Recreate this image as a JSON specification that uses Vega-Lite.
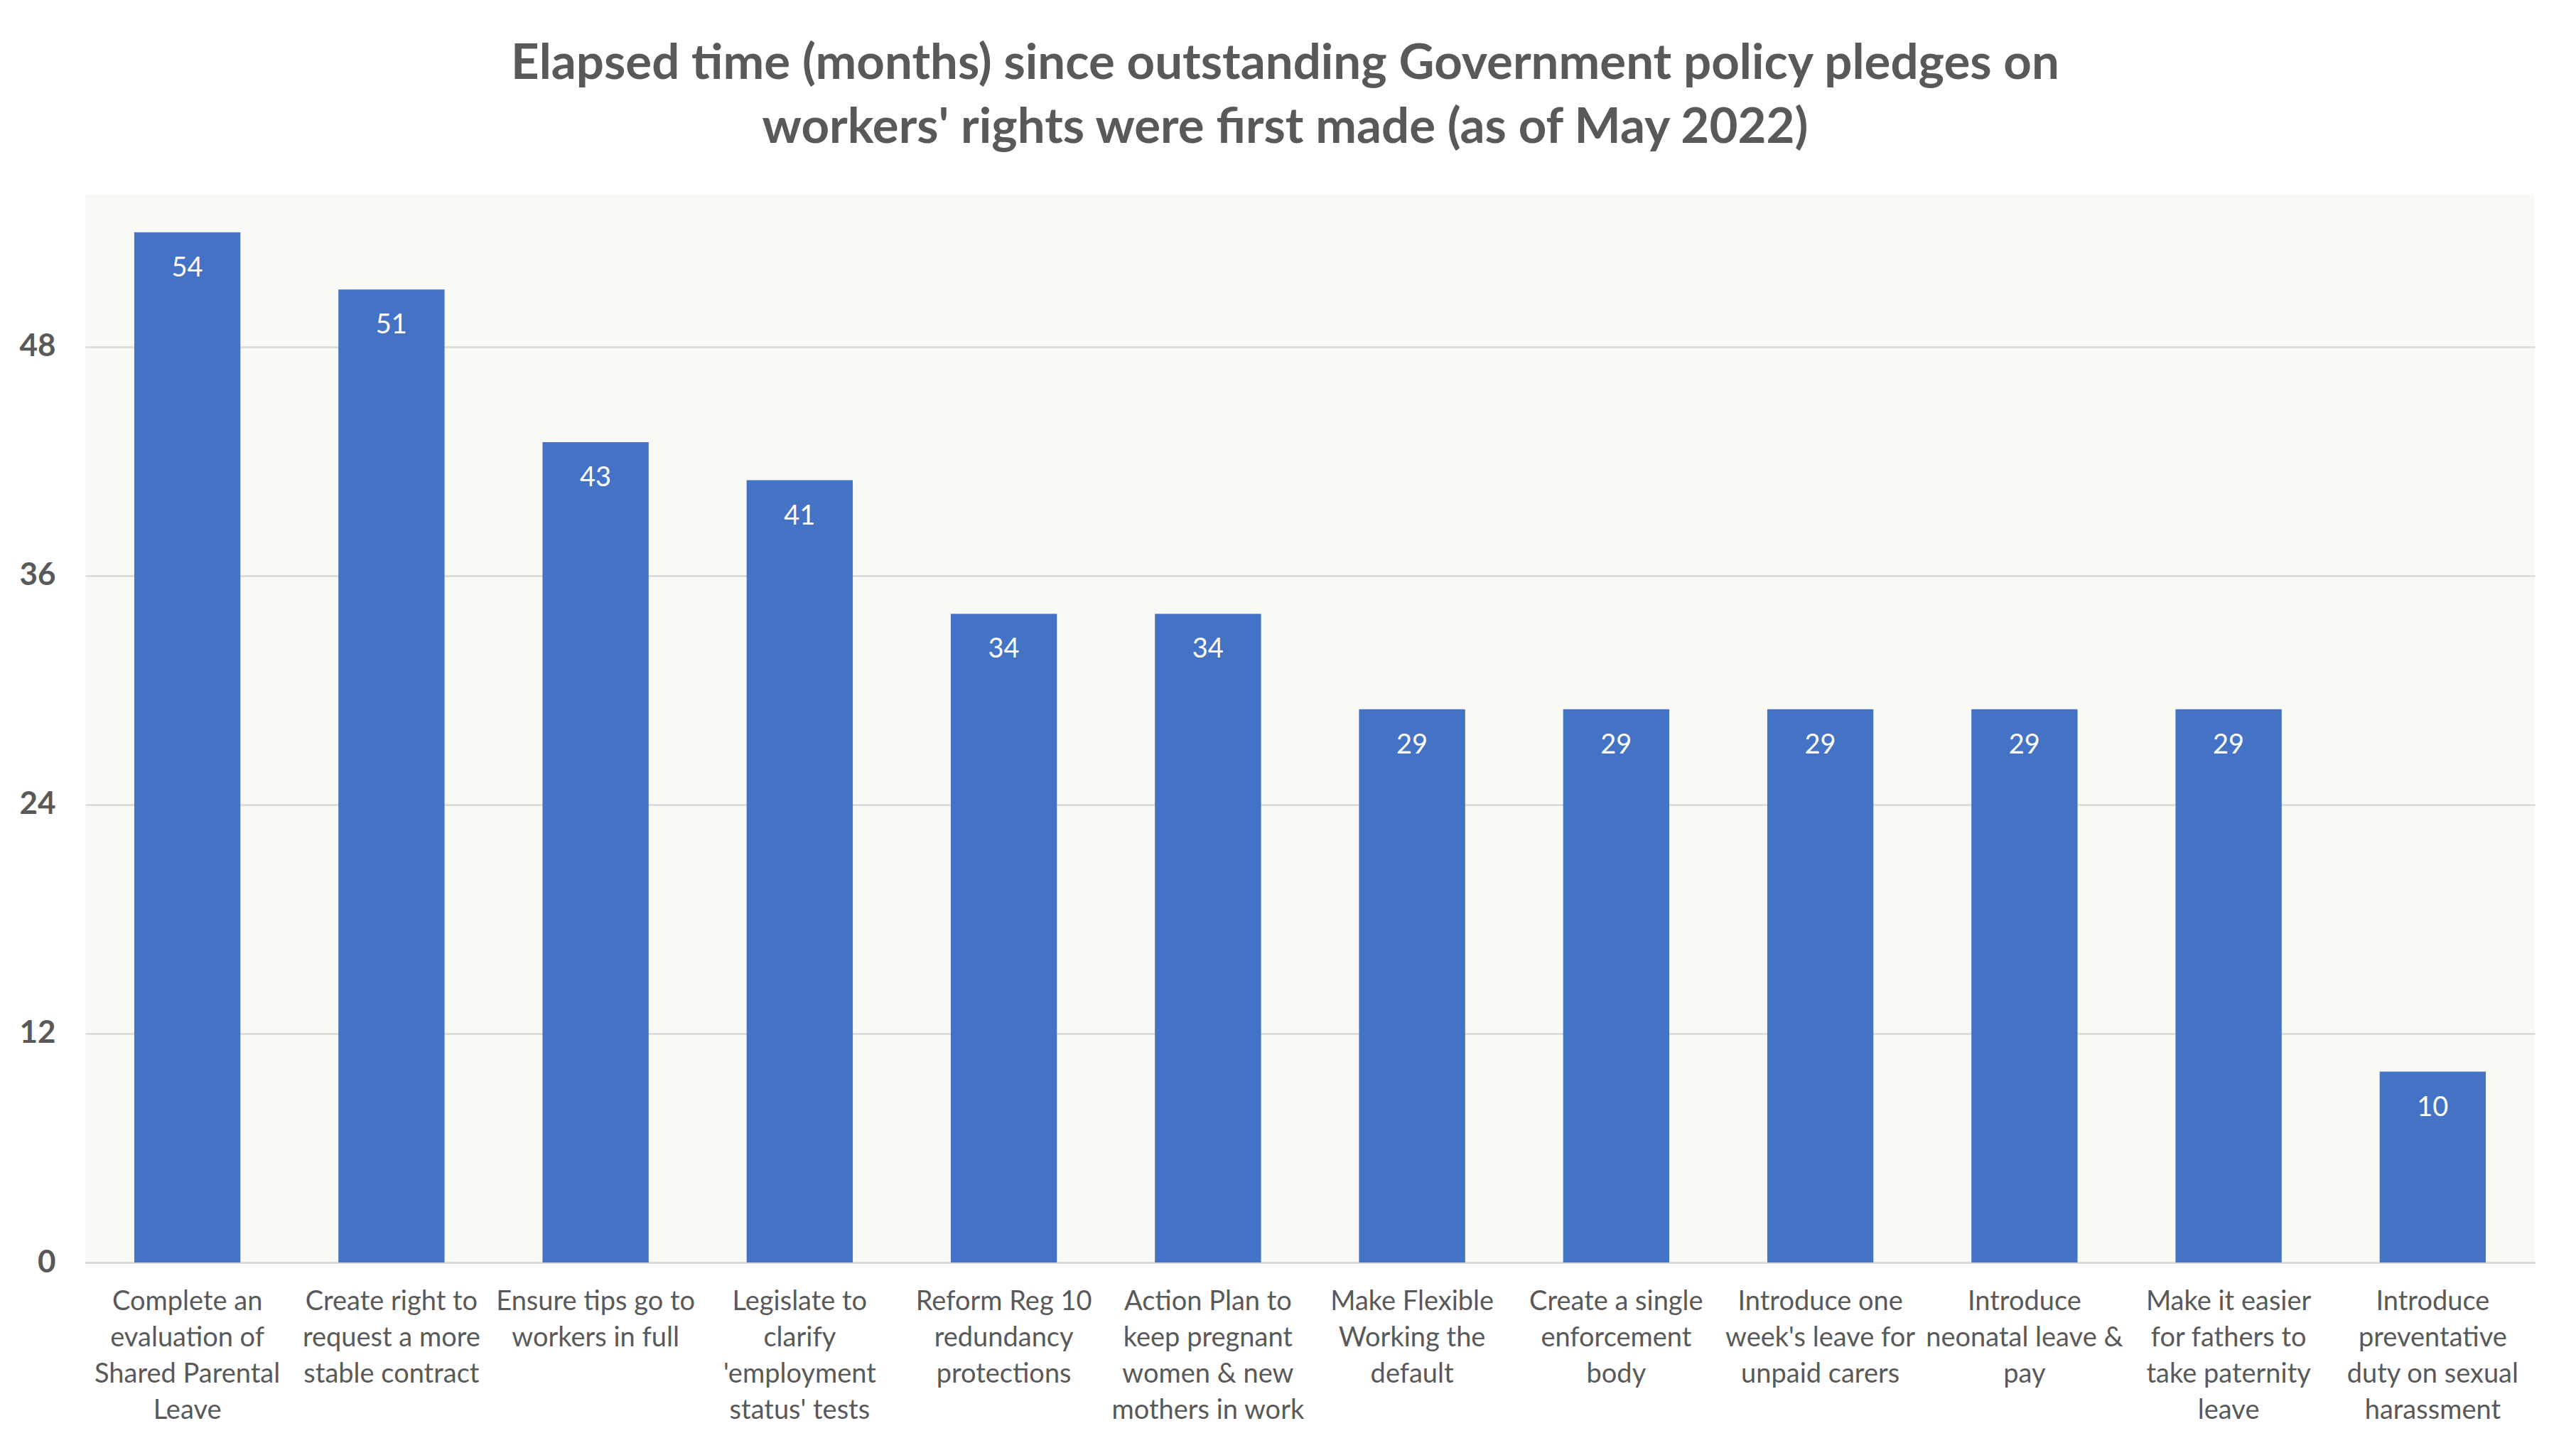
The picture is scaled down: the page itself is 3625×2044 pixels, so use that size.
{
  "$schema": "https://vega.github.io/schema/vega-lite/v6.json",
  "autosize": "none",
  "width": 3447,
  "height": 1503,
  "padding": {"left": 120, "top": 273, "right": 58, "bottom": 268},
  "background": "#FFFFFF",
  "title": {
    "text": ["Elapsed time (months) since outstanding Government policy pledges on", "workers' rights were first made (as of May 2022)"],
    "font": "Lato",
    "fontSize": 69,
    "fontWeight": "bold",
    "color": "#595959",
    "lineHeight": 90,
    "anchor": "middle",
    "dx": -35,
    "offset": 58
  },
  "data": {
    "values": [
      {"pledge": "Complete an|evaluation of|Shared Parental|Leave", "months": 54},
      {"pledge": "Create right to|request a more|stable contract", "months": 51},
      {"pledge": "Ensure tips go to|workers in full", "months": 43},
      {"pledge": "Legislate to|clarify|'employment|status' tests", "months": 41},
      {"pledge": "Reform Reg 10|redundancy|protections", "months": 34},
      {"pledge": "Action Plan to|keep pregnant|women & new|mothers in work", "months": 34},
      {"pledge": "Make Flexible|Working the|default", "months": 29},
      {"pledge": "Create a single|enforcement|body", "months": 29},
      {"pledge": "Introduce one|week's leave for|unpaid carers", "months": 29},
      {"pledge": "Introduce|neonatal leave &|pay", "months": 29},
      {"pledge": "Make it easier|for fathers to|take paternity|leave", "months": 29},
      {"pledge": "Introduce|preventative|duty on sexual|harassment", "months": 10}
    ]
  },
  "encoding": {
    "x": {
      "field": "pledge",
      "type": "nominal",
      "sort": null,
      "scale": {"paddingInner": 0.48, "paddingOuter": 0.24},
      "axis": {
        "title": null,
        "labelAngle": 0,
        "labelExpr": "split(datum.value, '|')",
        "labelFont": "Lato",
        "labelFontSize": 38,
        "labelColor": "#595959",
        "labelLineHeight": 51,
        "labelPadding": 36,
        "labelLimit": 400,
        "ticks": false,
        "domain": true,
        "domainColor": "#D9D9D9",
        "domainWidth": 3,
        "labelBaseline": "top"
      }
    },
    "y": {
      "field": "months",
      "type": "quantitative",
      "scale": {"domain": [0, 56], "nice": false},
      "axis": {
        "title": null,
        "values": [0, 12, 24, 36, 48],
        "labelFont": "Lato",
        "labelFontSize": 44,
        "labelFontWeight": "bold",
        "labelColor": "#595959",
        "labelPadding": 42,
        "ticks": false,
        "domain": false,
        "grid": true,
        "gridColor": "#D9D9D9",
        "gridWidth": 2.5
      }
    }
  },
  "layer": [
    {"mark": {"type": "bar", "color": "#4472C4"}},
    {
      "mark": {"type": "text", "color": "#FFFFFF", "font": "Lato", "fontSize": 38, "baseline": "top", "dy": 32},
      "encoding": {"text": {"field": "months", "type": "quantitative"}}
    }
  ],
  "config": {
    "view": {"fill": "#F9FAF6", "stroke": null}
  }
}
